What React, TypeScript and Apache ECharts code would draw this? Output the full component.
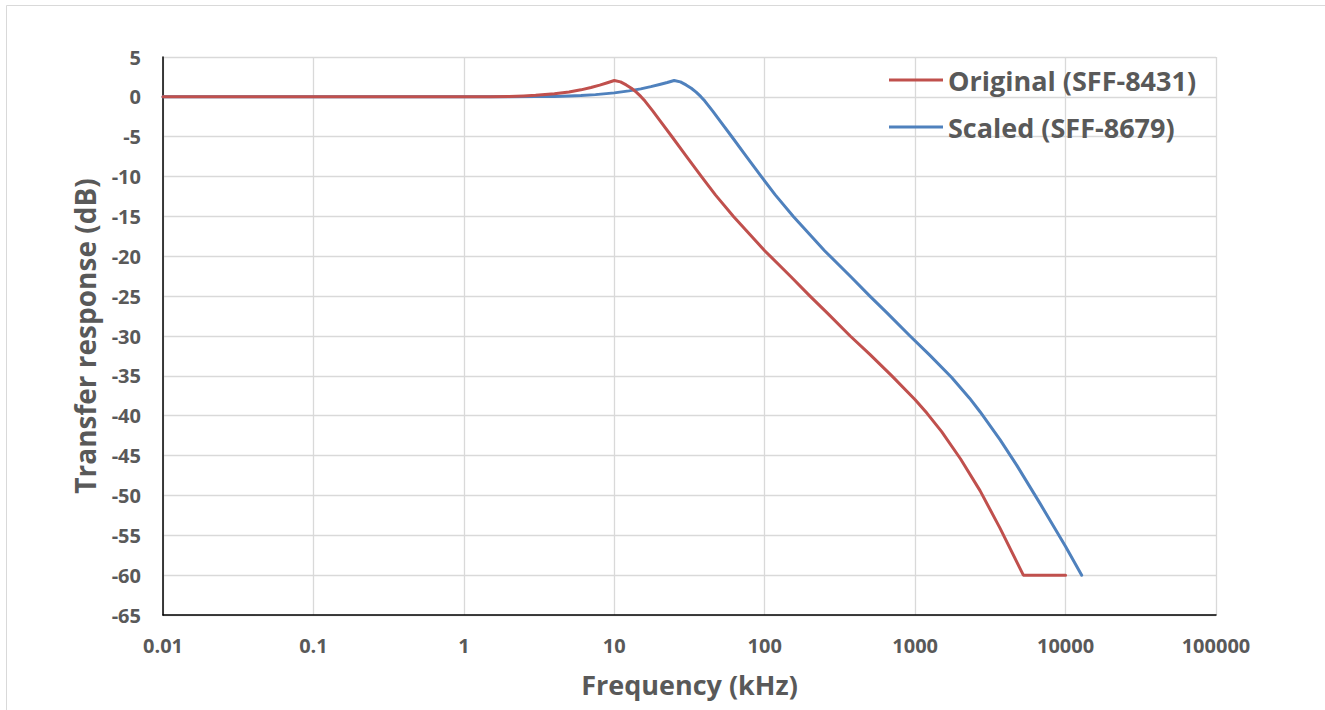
import React, { useEffect, useRef } from "react";
import * as echarts from "echarts";

// Frequency (kHz) and transfer response (dB) for each filter mask
const originalFreq = [0.01, 0.1, 1, 1.5, 2, 2.5, 3, 4, 5, 6, 7, 8, 9, 10, 11, 12, 13, 14, 15, 16, 18, 20, 24.4, 30, 38, 47, 62, 80, 100, 150, 200, 260, 370, 500, 700, 1000, 1200, 1500, 2000, 2700, 3665, 5240, 10000];
const originalDb = [0, 0, 0, 0.02, 0.06, 0.12, 0.2, 0.4, 0.62, 0.88, 1.17, 1.47, 1.77, 2.05, 1.88, 1.5, 1.08, 0.6, 0.06, -0.53, -1.76, -2.93, -5.1, -7.4, -10, -12.3, -15, -17.3, -19.3, -22.6, -25, -27.1, -30, -32.3, -35, -38, -39.7, -42, -45.4, -49.4, -54.1, -60, -60];

const scaledFreq = [0.01, 0.1, 1, 2, 3, 4, 5, 6, 7.5, 10, 12.5, 15, 17.5, 20, 22.5, 25, 27.5, 30, 32.5, 35, 37.5, 40, 45, 50, 61, 75, 95, 117.5, 155, 200, 250, 375, 500, 650, 925, 1250, 1750, 2300, 2700, 3665, 4730, 6760, 10000, 12800];
const scaledDb = [0, 0, 0, 0.01, 0.03, 0.06, 0.1, 0.16, 0.28, 0.5, 0.75, 1.0, 1.28, 1.55, 1.8, 2.05, 1.88, 1.5, 1.08, 0.6, 0.06, -0.53, -1.76, -2.93, -5.1, -7.4, -10, -12.3, -15, -17.3, -19.3, -22.6, -25, -27.1, -30, -32.4, -35.2, -37.8, -39.5, -43, -46.2, -51, -56.4, -60];

const seriesNames = ["Original (SFF-8431)", "Scaled (SFF-8679)"];
const xAxisTitle = "Frequency (kHz)";
const yAxisTitle = "Transfer response (dB)";

const FONT = "'Open Sans', 'Liberation Sans', sans-serif";
const TEXT_COLOR = "#595959";
const GRID_COLOR = "#d9d9d9";

const pairs = (xs: number[], ys: number[]) => xs.map((x, i) => [x, ys[i]]);

export default function App() {
  const ref = useRef<HTMLDivElement>(null);

  useEffect(() => {
    if (!ref.current) return;
    const chart = echarts.init(ref.current, undefined, { renderer: "svg" });
    chart.setOption({
      animation: false,
      backgroundColor: "#ffffff",
      graphic: [
        {
          type: "rect",
          shape: { x: 6.5, y: 5.5, width: 1340, height: 720 },
          style: { fill: "none", stroke: GRID_COLOR, lineWidth: 1 },
          silent: true,
        },
      ],
      grid: { left: 163, right: 109, top: 57, bottom: 95, containLabel: false },
      legend: {
        orient: "vertical",
        left: 889,
        top: 65,
        padding: 0,
        itemGap: 17,
        itemWidth: 54,
        itemHeight: 14,
        icon: "path://M0,6 L54,6 L54,9 L0,9 Z",
        textStyle: {
          fontFamily: FONT,
          fontWeight: "bold",
          fontSize: 27,
          lineHeight: 30,
          color: TEXT_COLOR,
        },
        data: seriesNames,
      },
      xAxis: {
        type: "log",
        logBase: 10,
        min: 0.01,
        max: 100000,
        name: xAxisTitle,
        nameLocation: "middle",
        nameGap: 56,
        nameTextStyle: {
          fontFamily: FONT,
          fontWeight: "bold",
          fontSize: 27,
          color: TEXT_COLOR,
        },
        axisLine: { show: true, onZero: false, lineStyle: { color: "#000000", width: 1.5 } },
        axisTick: { show: false },
        axisLabel: {
          margin: 20,
          fontFamily: FONT,
          fontWeight: "bold",
          fontSize: 20,
          color: TEXT_COLOR,
          formatter: (v: number) => String(parseFloat(Number(v).toPrecision(3))),
        },
        splitLine: { show: true, lineStyle: { color: GRID_COLOR, width: 1.3 } },
      },
      yAxis: {
        type: "value",
        min: -65,
        max: 5,
        interval: 5,
        name: yAxisTitle,
        nameLocation: "middle",
        nameGap: 64,
        nameTextStyle: {
          fontFamily: FONT,
          fontWeight: "bold",
          fontSize: 28,
          color: TEXT_COLOR,
        },
        axisLine: { show: true, onZero: false, lineStyle: { color: "#000000", width: 1.5 } },
        axisTick: { show: false },
        axisLabel: {
          margin: 22,
          fontFamily: FONT,
          fontWeight: "bold",
          fontSize: 20,
          color: TEXT_COLOR,
        },
        splitLine: { show: true, lineStyle: { color: GRID_COLOR, width: 1.3 } },
      },
      series: [
        {
          name: seriesNames[0],
          type: "line",
          data: pairs(originalFreq, originalDb),
          showSymbol: false,
          symbol: "none",
          smooth: false,
          color: "#C0504D",
          lineStyle: { color: "#C0504D", width: 3, join: "round", cap: "round" },
          z: 3,
        },
        {
          name: seriesNames[1],
          type: "line",
          data: pairs(scaledFreq, scaledDb),
          showSymbol: false,
          symbol: "none",
          smooth: false,
          color: "#4F81BD",
          lineStyle: { color: "#4F81BD", width: 3, join: "round", cap: "round" },
          z: 2,
        },
      ],
    });
    return () => chart.dispose();
  }, []);

  return (
    <div
      ref={ref}
      style={{ position: "absolute", left: 0, top: 0, width: 1325, height: 710 }}
    />
  );
}
